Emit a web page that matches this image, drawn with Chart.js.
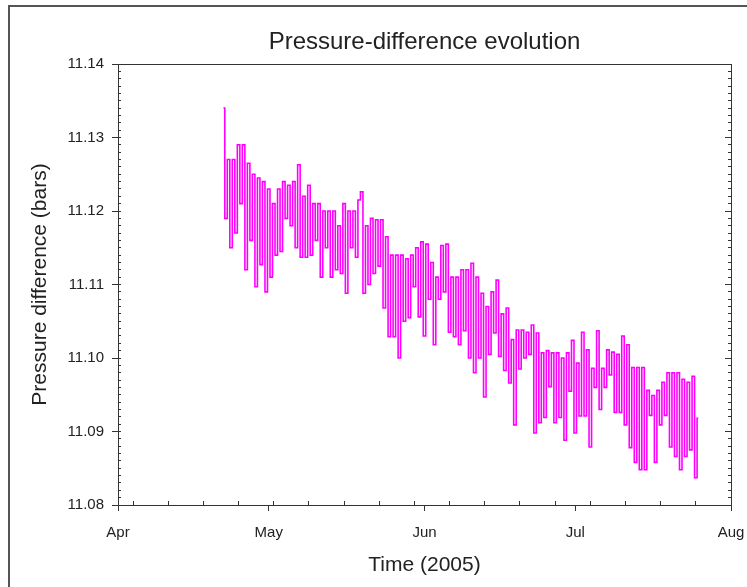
<!DOCTYPE html>
<html>
<head>
<meta charset="utf-8">
<title>Pressure-difference evolution</title>
<script src="https://cdn.jsdelivr.net/npm/chart.js@4"></script>
<style>
  body { margin: 0; background: #fff; }
  #wrap { position: relative; width: 747px; height: 587px; overflow: hidden; }
  #frame { position: absolute; left: 8px; top: 5px; width: 800px; height: 700px;
           border-left: 2px solid #555; border-top: 2px solid #555; }
  canvas { position: absolute; left: 0; top: 0; }
</style>
</head>
<body>
<div id="wrap">
  <div id="frame"></div>
  <canvas id="pressureChart" width="747" height="587"></canvas>
</div>
<script>
// readings every half day, starting 22 Apr 2005 (x = days after 1 Apr)
const firstDay = 21;
const sampleStep = 0.5;

const aprilValues = [
  11.134, 11.119, 11.127, 11.115, 11.127, 11.117, 11.129, 11.121, 11.129, 11.112,
  11.1265, 11.116, 11.125, 11.1097, 11.1245, 11.1127, 11.124, 11.109
];
const mayValues = [
  11.123, 11.111, 11.121, 11.114, 11.123, 11.1145, 11.124, 11.119, 11.1235, 11.118,
  11.124, 11.115, 11.1263, 11.1137, 11.122, 11.1137, 11.1235, 11.114, 11.121, 11.116,
  11.121, 11.111, 11.120, 11.115, 11.120, 11.111, 11.120, 11.112, 11.118, 11.1115,
  11.121, 11.1088, 11.120, 11.115, 11.120, 11.1137, 11.1215, 11.1226, 11.1088, 11.118,
  11.110, 11.119, 11.1115, 11.1188, 11.1125, 11.1188, 11.1068, 11.1165, 11.1029, 11.114,
  11.1029, 11.114, 11.100, 11.114, 11.105, 11.1135, 11.1055, 11.114, 11.1097, 11.115,
  11.1056, 11.1158
];
const juneValues = [
  11.103, 11.1155, 11.108, 11.113, 11.1018, 11.111, 11.108, 11.1153, 11.109, 11.1155,
  11.1035, 11.111, 11.1029, 11.111, 11.1018, 11.112, 11.1037, 11.112, 11.100, 11.1129,
  11.098, 11.111, 11.100, 11.1088, 11.0947, 11.107, 11.1005, 11.109, 11.1034, 11.1106,
  11.1002, 11.106, 11.0983, 11.1068, 11.0966, 11.1025, 11.0909, 11.1038, 11.0985, 11.1038,
  11.100, 11.1035, 11.1005, 11.1045, 11.0898, 11.1034, 11.0912, 11.1007, 11.0919, 11.101,
  11.0961, 11.1007, 11.0912, 11.1007, 11.0919, 11.100, 11.0888, 11.1007, 11.0955, 11.1024
];
const julyValues = [
  11.0898, 11.0993, 11.0921, 11.1035, 11.0921, 11.1011, 11.0879, 11.0986, 11.096, 11.1037,
  11.093, 11.0986, 11.096, 11.1011, 11.0977, 11.1008, 11.0926, 11.1005, 11.0926, 11.103,
  11.0909, 11.1018, 11.0878, 11.0987, 11.0858, 11.0987, 11.0848, 11.0987, 11.0848, 11.0956,
  11.0922, 11.0949, 11.0858, 11.0956, 11.0909, 11.0967, 11.0922, 11.098, 11.0879, 11.098,
  11.0866, 11.098, 11.0848, 11.0971, 11.0866, 11.0967, 11.0875, 11.0975, 11.0837, 11.0918
];

const monthDays = [0, 30, 61, 91, 122];
const monthLabels = ['Apr', 'May', 'Jun', 'Jul', 'Aug'];
const mondayDays = [3, 10, 17, 24, 31, 38, 45, 52, 59, 66, 73, 80, 87, 94, 101, 108, 115];
const yTicks = [11.08, 11.09, 11.10, 11.11, 11.12, 11.13, 11.14];

const values = aprilValues.concat(mayValues, juneValues, julyValues);
const points = values.map((v, i) => ({ x: firstDay + i * sampleStep, y: v }));

// minor ticks every 0.001 bar
const yMinorTicks = [];
for (let k = 11080; k <= 11140; k++) yMinorTicks.push(k / 1000);

const axisColor = '#333';
const textColor = '#222';
const family = "'Liberation Sans', Arial, sans-serif";

const setTicks = list => axis => { axis.ticks = list.map(v => ({ value: v })); };
const noSize = axis => { if (axis.isHorizontal()) axis.height = 0; else axis.width = 0; };

// helper for the unlabeled tick-only axes
function markAxis(position, min, max, list, len, weight) {
    return {
        type: 'linear', display: true, position: position, weight: weight,
        min: min, max: max,
        afterBuildTicks: setTicks(list),
        afterFit: noSize,
        ticks: { display: false },
        grid: { drawOnChartArea: false, tickLength: len, color: axisColor },
        border: { display: false }
    };
}

new Chart(document.getElementById('pressureChart'), {
    type: 'line',
    data: {
        datasets: [{
            data: points,
            borderColor: '#ff00ff',
            borderWidth: 1.6,
            pointRadius: 0,
            stepped: 'middle',
            fill: false
        }]
    },
    options: {
        responsive: false,
        animation: false,
        layout: { padding: { top: 27.6, left: 24, right: 16, bottom: 5 } },
        plugins: {
            legend: { display: false },
            tooltip: { enabled: false },
            title: {
                display: true,
                fullSize: false,
                text: 'Pressure-difference evolution',
                color: textColor,
                font: { family: family, size: 24, weight: 'normal' },
                padding: { top: 0, bottom: 7.6 }
            }
        },
        scales: {
            x: {
                type: 'linear', position: 'bottom', min: 0, max: 122,
                afterBuildTicks: setTicks(monthDays),
                afterFit: axis => { axis.height = 77; axis.paddingLeft = 0; axis.paddingRight = 0; },
                ticks: {
                    autoSkip: false, maxRotation: 0, padding: 13, color: textColor,
                    font: { family: family, size: 15 },
                    callback: (v, i) => monthLabels[i]
                },
                grid: { drawOnChartArea: false, tickLength: 6, color: axisColor },
                border: { color: axisColor, width: 1 },
                title: {
                    display: true, text: 'Time (2005)', color: textColor,
                    font: { family: family, size: 21 },
                    padding: { top: 0, bottom: 4 }
                }
            },
            xWeeks: markAxis('bottom', 0, 122, mondayDays, -4, -1),
            xTop: {
                type: 'linear', display: true, position: 'top', min: 0, max: 122,
                afterFit: noSize,
                ticks: { display: false },
                grid: { display: false },
                border: { color: axisColor, width: 1 }
            },
            y: {
                type: 'linear', position: 'left', min: 11.08, max: 11.14,
                afterBuildTicks: setTicks(yTicks),
                afterFit: axis => { axis.width = 94; },
                ticks: {
                    padding: 8, color: textColor,
                    font: { family: family, size: 15 },
                    callback: v => v.toFixed(2)
                },
                grid: { drawOnChartArea: false, tickLength: 6, color: axisColor },
                border: { color: axisColor, width: 1 },
                title: {
                    display: true, text: 'Pressure difference (bars)', color: textColor,
                    font: { family: family, size: 21 },
                    padding: { top: 3.4, bottom: 4 }
                }
            },
            yMinor: markAxis('left', 11.08, 11.14, yMinorTicks, -3, -1),
            yRight: {
                type: 'linear', display: true, position: 'right', min: 11.08, max: 11.14,
                afterBuildTicks: setTicks(yTicks),
                afterFit: noSize,
                ticks: { display: false },
                grid: { drawOnChartArea: false, tickLength: -6, color: axisColor },
                border: { color: axisColor, width: 1 }
            },
            yRightMinor: markAxis('right', 11.08, 11.14, yMinorTicks, -3, -1)
        }
    }
});
</script>
</body>
</html>
